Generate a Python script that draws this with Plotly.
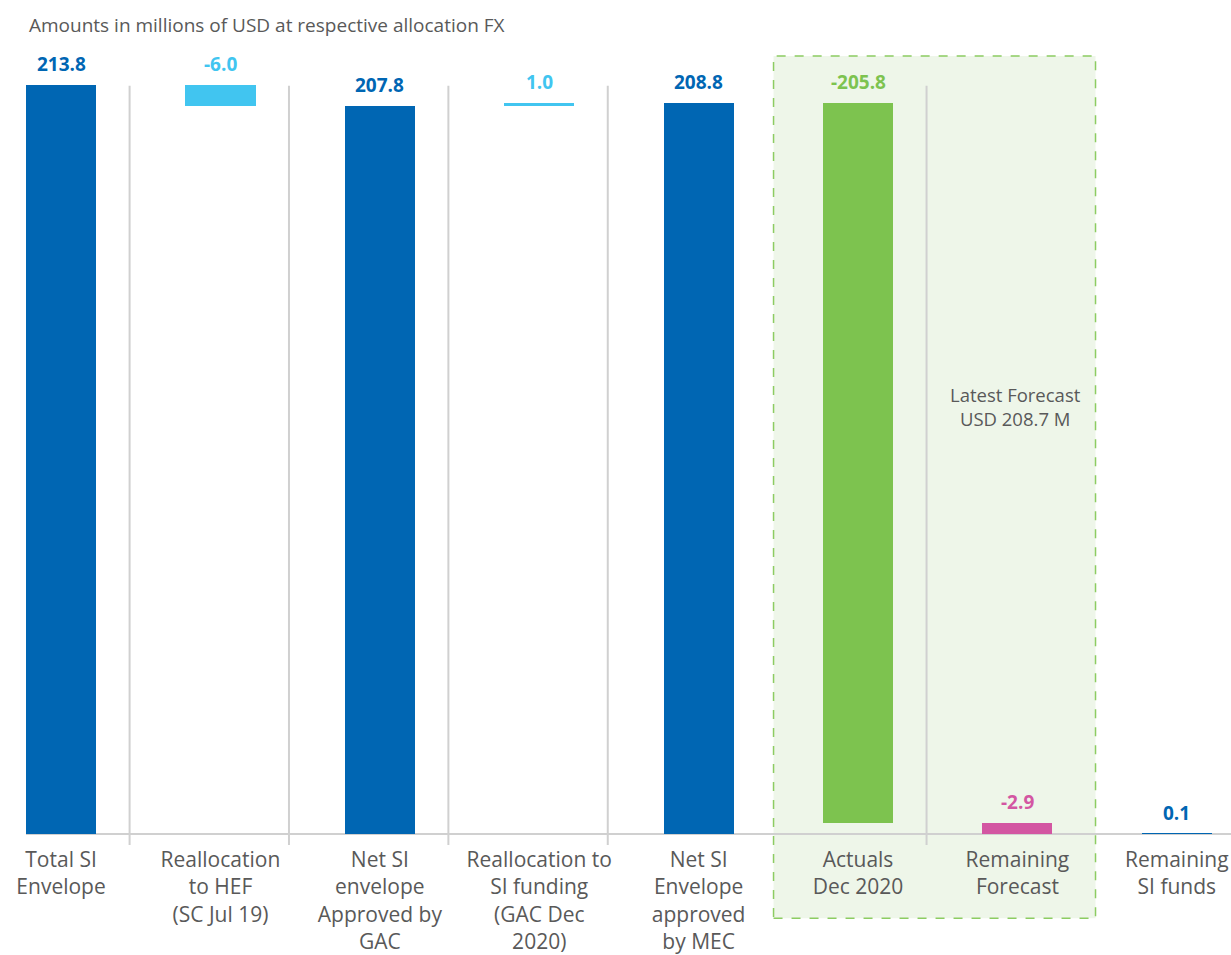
import plotly.graph_objects as go

categories = ["Total SI<br>Envelope", "Reallocation<br>to HEF<br>(SC Jul 19)", "Net SI<br>envelope<br>Approved by<br>GAC",
              "Reallocation to<br>SI funding<br>(GAC Dec<br>2020)", "Net SI<br>Envelope<br>approved<br>by MEC",
              "Actuals<br>Dec 2020", "Remaining<br>Forecast", "Remaining<br>SI funds"]
values = [213.8, -6.0, None, 1.0, None, -205.8, -2.9, None]
measures = ["absolute", "relative", "total", "relative", "total", "relative", "relative", "total"]
labels = ["213.8", "-6.0", "207.8", "1.0", "208.8", "-205.8", "-2.9", "0.1"]
colors = ["#0066b3", "#41c5f0", "#0066b3", "#41c5f0", "#0066b3", "#7dc34f", "#d356a2", "#0066b3"]
title_text = "Amounts in millions of USD at respective allocation FX"
forecast_note = "Latest Forecast<br>USD 208.7 M"

# compute waterfall bases
bases, heights = [], []
running = 0.0
for m, v in zip(measures, values):
    if m == "absolute":
        bases.append(0.0); heights.append(v); running = v
    elif m == "relative":
        bases.append(running); heights.append(v); running += v
    else:
        bases.append(0.0); heights.append(running)
tops = [max(b, b + h) for b, h in zip(bases, heights)]
xs = list(range(len(categories)))

fig = go.Figure()
fig.add_trace(go.Bar(x=xs, y=heights, base=bases, marker=dict(color=colors, line=dict(width=0)),
                     width=0.44, showlegend=False, hoverinfo="skip"))

# value labels above bars
for x, t, lab, c in zip(xs, tops, labels, colors):
    fig.add_annotation(x=x, y=t, text="<b>%s</b>" % lab, showarrow=False, yanchor="bottom",
                       yshift=6, font=dict(family="Open Sans", size=19, color=c))

GRID = "#d0d0d0"
shapes = []
# highlighted box behind actuals/forecast
shapes.append(dict(type="rect", xref="x", yref="paper", x0=4.47, x1=6.49, y0=-0.091, y1=0.98,
                   fillcolor="#eef6e9", line=dict(color="#8ccc62", width=1.5, dash="dash"), layer="below"))
# vertical separators
for i in [0, 1, 2, 3, 5]:
    shapes.append(dict(type="line", xref="x", yref="y", x0=i + 0.43, x1=i + 0.43, y0=-3.2, y1=213.6,
                       line=dict(color=GRID, width=2), layer="below"))
# baseline
shapes.append(dict(type="line", xref="x", yref="y", x0=-0.22, x1=7.4, y0=0, y1=0,
                   line=dict(color=GRID, width=2), layer="below"))
fig.update_layout(shapes=shapes)

fig.add_annotation(x=5.99, y=122, text=forecast_note, showarrow=False,
                   font=dict(family="Open Sans", size=18.5, color="#595959"))
fig.add_annotation(xref="paper", yref="paper", x=27 / 1231, y=1.0, yshift=15, xanchor="left", yanchor="middle",
                   text=title_text, showarrow=False, font=dict(family="Open Sans", size=19, color="#595959"))

fig.update_layout(
    width=1231, height=955,
    margin=dict(l=0, r=0, t=40, b=110),
    plot_bgcolor="white", paper_bgcolor="white",
    bargap=0,
    xaxis=dict(range=[-0.383, 7.34], tickvals=xs, ticktext=categories, showgrid=False, zeroline=False,
               showline=False, ticks="", tickfont=dict(family="Open Sans", size=21, color="#595959"),
               fixedrange=True),
    yaxis=dict(range=[-3.14, 226.67], showgrid=False, zeroline=False, showticklabels=False, showline=False,
               fixedrange=True),
)

fig.write_html("out.html")
